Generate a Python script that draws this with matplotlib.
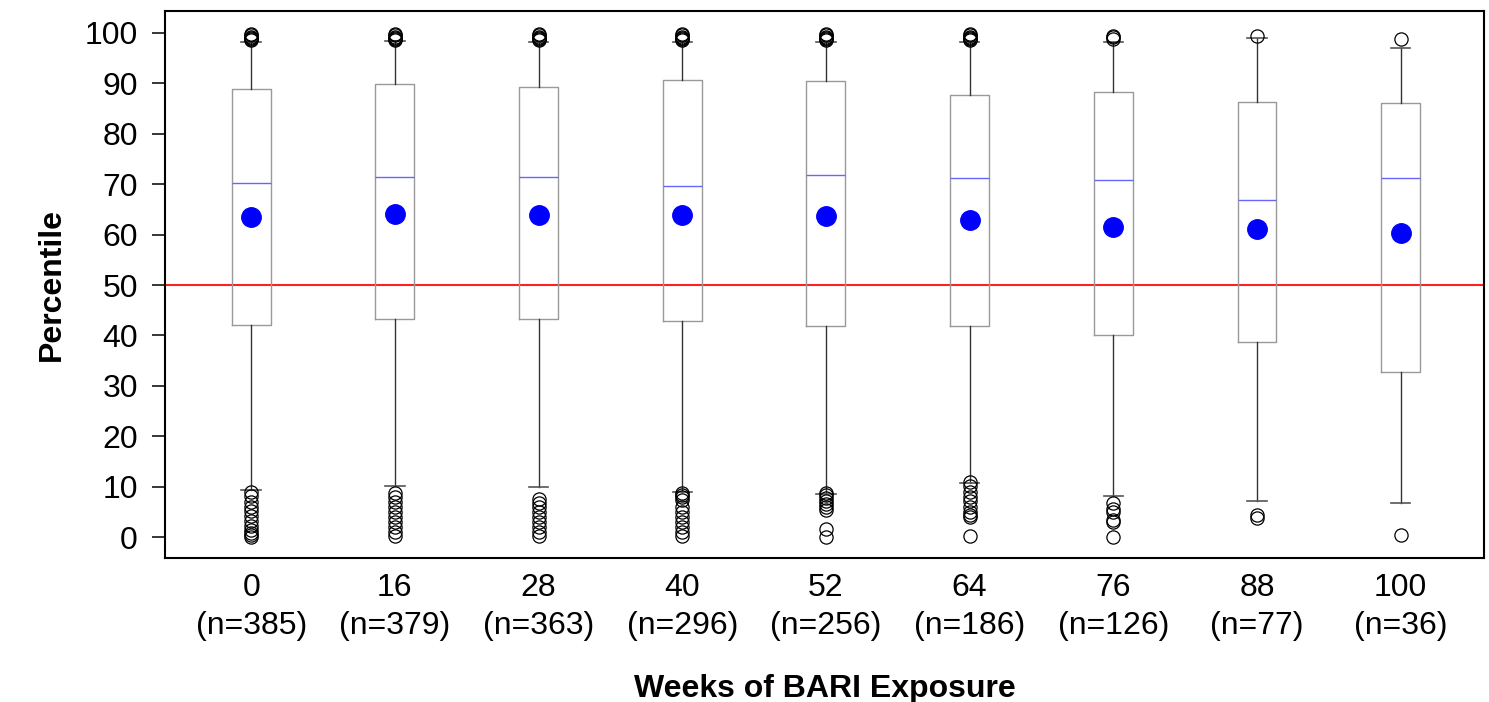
import matplotlib
matplotlib.use("Agg")
import matplotlib.pyplot as plt

plt.rcParams['font.family'] = ['Liberation Sans', 'DejaVu Sans']

weeks = [0, 16, 28, 40, 52, 64, 76, 88, 100]
n_obs = [385, 379, 363, 296, 256, 186, 126, 77, 36]

q1 = [42.0, 43.2, 43.2, 42.9, 41.8, 41.8, 40.0, 38.7, 32.7]
medians = [70.3, 71.5, 71.5, 69.7, 71.8, 71.3, 70.8, 66.9, 71.3]
q3 = [88.8, 89.9, 89.3, 90.7, 90.4, 87.7, 88.3, 86.3, 86.1]
whisk_lo = [9.3, 10.1, 9.9, 8.9, 8.6, 10.7, 8.1, 7.3, 6.9]
whisk_hi = [98.2, 98.3, 98.2, 98.2, 98.2, 98.1, 98.2, 99.0, 96.9]
means = [63.5, 64.0, 63.9, 63.8, 63.6, 62.8, 61.6, 61.1, 60.4]

top_cluster = [98.5, 98.8, 99.0, 99.2, 99.5, 99.7]
fliers = [
    [9.0, 8.2, 7.0, 6.0, 5.2, 4.3, 3.2, 2.3, 1.5, 0.9, 0.4, 0.1] + top_cluster,
    [8.8, 8.0, 7.0, 6.0, 5.0, 4.0, 3.0, 2.0, 1.0, 0.2] + top_cluster,
    [7.5, 6.8, 6.0, 5.0, 4.0, 3.0, 2.0, 1.0, 0.3] + top_cluster,
    [8.8, 8.4, 8.0, 7.4, 6.0, 5.0, 4.0, 3.0, 2.0, 1.0, 0.2] + top_cluster,
    [8.8, 8.3, 7.8, 7.2, 6.6, 6.0, 5.4, 1.6, 0.1] + top_cluster,
    [10.9, 10.2, 9.0, 8.0, 7.2, 6.0, 5.0, 4.4, 4.0, 0.2] + top_cluster,
    [6.9, 5.7, 5.0, 3.5, 3.0, 0.1] + [98.8, 99.1, 99.4],
    [4.5, 3.8, 99.4],
    [0.5, 98.8],
]

reference_line = 50

stats = []
for i in range(len(weeks)):
    stats.append({
        'med': medians[i], 'q1': q1[i], 'q3': q3[i],
        'whislo': whisk_lo[i], 'whishi': whisk_hi[i],
        'mean': means[i], 'fliers': fliers[i],
    })

fig = plt.figure(figsize=(14.89, 7.02), dpi=100)
ax = fig.add_axes([0.1108, 0.2058, 0.8858, 0.7792])

positions = list(range(1, len(weeks) + 1))
ax.bxp(stats, positions=positions, widths=0.27, showmeans=True,
       boxprops=dict(color='#999999', linewidth=1.0),
       medianprops=dict(color='#6666ff', linewidth=1.0),
       whiskerprops=dict(color='#333333', linewidth=1.0),
       capprops=dict(color='#555555', linewidth=1.2),
       flierprops=dict(marker='o', markerfacecolor='none', markeredgecolor='black',
                       markersize=9.5, markeredgewidth=0.9),
       meanprops=dict(marker='o', markerfacecolor='#0000ff', markeredgecolor='#0000ff',
                      markersize=14))

ax.axhline(reference_line, color='#ff2020', linewidth=1.5, zorder=0.5)

ax.set_xlim(0.4, 9.58)
ax.set_ylim(-4, 104.4)
ax.set_yticks(range(0, 101, 10))
ax.set_xticks(positions)
ax.set_xticklabels([f"{w}\n(n={n})" for w, n in zip(weeks, n_obs)])
for lbl in ax.get_xticklabels():
    lbl.set_linespacing(1.35)

ax.tick_params(axis='y', labelsize=23, length=9.5, width=1.1, direction='out', pad=10)
ax.tick_params(axis='x', labelsize=23, length=0, pad=11)
for s in ax.spines.values():
    s.set_linewidth(1.5)

ax.set_xlabel('Weeks of BARI Exposure', fontsize=23, fontweight='bold', labelpad=24)
ax.set_ylabel('Percentile', fontsize=23, fontweight='bold', labelpad=13)

fig.savefig('out.png', dpi=100)
